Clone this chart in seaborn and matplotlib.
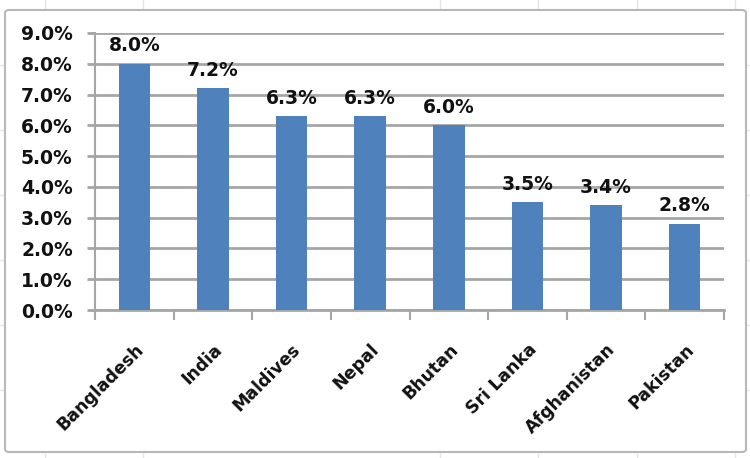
import matplotlib
matplotlib.use("Agg")
import matplotlib.pyplot as plt
from matplotlib.patches import FancyBboxPatch
from matplotlib.lines import Line2D
import seaborn as sns
import pandas as pd
import numpy as np

countries = ["Bangladesh", "India", "Maldives", "Nepal", "Bhutan", "Sri Lanka", "Afghanistan", "Pakistan"]
values = [8.0, 7.2, 6.3, 6.3, 6.0, 3.5, 3.4, 2.8]
yticks = [0, 1, 2, 3, 4, 5, 6, 7, 8, 9]

sns.set_theme(style="white")
plt.rcParams['font.family'] = ['DejaVu Sans']

df = pd.DataFrame({"country": countries, "value": values})

fig = plt.figure(figsize=(7.5, 4.58), dpi=100)
fig.patch.set_facecolor("white")

# faint spreadsheet cell lines behind the chart
for x in [45, 143, 440, 538, 637, 735]:
    fig.add_artist(Line2D([x / 750, x / 750], [0, 1], color="#e6e6e6", lw=1, zorder=0))
for y in [65, 130, 195, 260, 325, 390]:
    fig.add_artist(Line2D([0, 1], [1 - y / 458, 1 - y / 458], color="#e6e6e6", lw=1, zorder=0))

# chart area box
box = FancyBboxPatch((5 / 750, 1 - 452 / 458), 741 / 750, 442 / 458,
                     boxstyle="round,pad=0,rounding_size=0.006",
                     transform=fig.transFigure, facecolor="white",
                     edgecolor="#b8b8b8", lw=1.5, zorder=0.5)
fig.add_artist(box)

ax = fig.add_axes([95 / 750, 1 - 310 / 458, (724 - 95) / 750, (310 - 33) / 458])
ax.set_facecolor("none")
ax.set_zorder(2)

sns.barplot(data=df, x="country", y="value", color="#4F81BD", width=0.4,
            saturation=1, linewidth=0, ax=ax, zorder=3)

ax.set_ylim(0, 9)
ax.set_xlim(-0.5, len(countries) - 0.5)
ax.set_yticks(yticks)
ax.set_yticklabels([f"{v:.1f}%" for v in yticks], fontsize=13.5, fontweight="bold", color="#111111")
ax.yaxis.grid(True, color="#a6a6a6", lw=2)
ax.set_axisbelow(True)
ax.tick_params(axis="y", left=True, length=6, width=2, color="#a6a6a6", pad=10)

ax.set_xticks(range(len(countries)))
ax.set_xticklabels(countries, rotation=45, ha="right", rotation_mode="anchor",
                   fontsize=12.5, fontweight="bold", color="#111111")
ax.tick_params(axis="x", bottom=False, length=0, pad=22)
ax.set_xticks(np.arange(-0.5, len(countries), 1), minor=True)
ax.tick_params(axis="x", which="minor", bottom=True, length=7, width=1.5, color="#a6a6a6")

ax.set_xlabel("")
ax.set_ylabel("")
for s in ["top", "right"]:
    ax.spines[s].set_visible(False)
ax.spines["left"].set_color("#a6a6a6")
ax.spines["left"].set_linewidth(1.5)
ax.spines["bottom"].set_color("#a6a6a6")
ax.spines["bottom"].set_linewidth(2)

for c in ax.containers:
    ax.bar_label(c, labels=[f"{v:.1f}%" for v in values], padding=6,
                 fontsize=13.5, fontweight="bold", color="#111111")

fig.savefig("out.png", dpi=100, facecolor="white")
